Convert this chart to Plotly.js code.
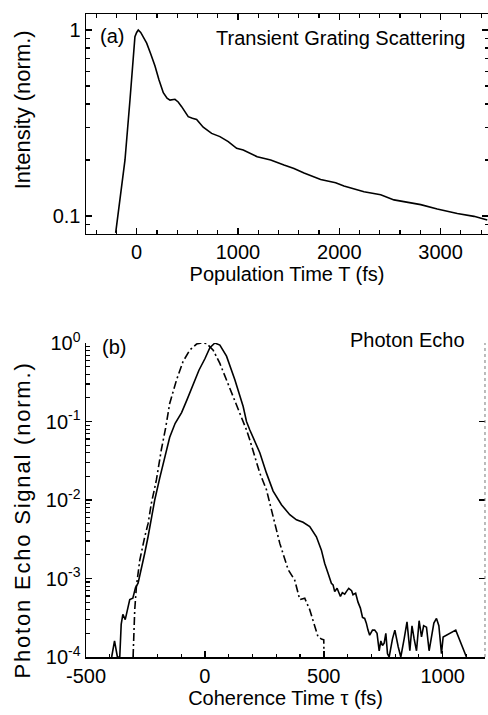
<!DOCTYPE html>
<html>
<head>
<meta charset="utf-8">
<script src="https://cdn.plot.ly/plotly-3.0.1.min.js"></script>
<style>
html,body{margin:0;padding:0;background:#fff;}
#chart{width:488px;height:715px;}
</style>
</head>
<body>
<div id="chart"></div>
<script>
// ---------- Panel (a): Transient grating scattering ----------
var tgTime = [-207,-160,-115,-66,-39,-17,0,16,40,70,99,140,181,220,263,300,329,378,410,444,509,550,592,657,700,740,822,904,987,1052,1190,1323,1454,1553,1652,1816,1964,2046,2244,2409,2540,2705,2804,2967,3165,3330,3461];
var tgIntensity = [0.081,0.13,0.20,0.42,0.69,0.92,0.97,1.0,0.97,0.91,0.85,0.74,0.64,0.54,0.46,0.43,0.42,0.424,0.41,0.387,0.342,0.335,0.33,0.30,0.29,0.278,0.267,0.251,0.231,0.226,0.208,0.20,0.188,0.18,0.17,0.157,0.151,0.145,0.135,0.130,0.122,0.117,0.115,0.109,0.103,0.0995,0.095];

// ---------- Panel (b): Photon echo ----------
var peTau = [-392,-380,-368,-358,-352,-345,-335,-324,-316,-303,-292,-281,-267,-253,-239,-225,-211,-190,-169,-148,-125,-98,-75,-50,-25,0,21,42,63,91,126,161,175,189,203,231,259,287,322,357,385,413,441,469,490,504,518,532,539,546,556,564,570,578,588,595,605,617,623,634,644,654,663,672,679,686,693,705,714,724,733,740,747,754,761,768,775,789,799,813,824,838,850,862,871,880,890,901,911,920,932,943,953,963,974,984,995,1002,1055,1100];
var peSignal = [1.0e-4,1.6e-4,1.0e-4,1.0e-4,2.6e-4,3.5e-4,3.0e-4,4.4e-4,5.4e-4,5.6e-4,7.6e-4,8.7e-4,1.3e-3,2.1e-3,3.4e-3,6.2e-3,1.0e-2,1.9e-2,3.5e-2,6.3e-2,9.5e-2,0.13,0.19,0.30,0.45,0.63,0.87,1.0,0.94,0.68,0.34,0.155,0.10,7.8e-2,6.2e-2,4.0e-2,2.2e-2,1.3e-2,8.7e-3,6.5e-3,5.6e-3,5.2e-3,4.6e-3,3.4e-3,2.3e-3,1.55e-3,1.17e-3,8.7e-4,8.3e-4,6.8e-4,7.5e-4,6.5e-4,5.9e-4,6.6e-4,6.3e-4,6.8e-4,7.5e-4,7.0e-4,6.2e-4,6.5e-4,5.0e-4,4.2e-4,3.2e-4,3.1e-4,2.7e-4,2.2e-4,1.9e-4,2.2e-4,2.2e-4,2.0e-4,1.2e-4,1.6e-4,1.4e-4,1.5e-4,2.0e-4,1.1e-4,1.0e-4,1.7e-4,2.2e-4,1.35e-4,1.0e-4,1.7e-4,2.8e-4,1.2e-4,2.5e-4,1.7e-4,1.2e-4,2.9e-4,1.8e-4,2.5e-4,2.4e-4,1.2e-4,1.8e-4,2.7e-4,3.1e-4,2.5e-4,1.1e-4,1.8e-4,2.2e-4,1.0e-4];

var refTau = [-302,-299,-295,-288,-274,-253,-239,-225,-204,-183,-165,-148,-119,-92,-64,-35,-14,7,35,63,91,119,147,175,189,231,259,287,315,350,378,399,420,441,462,476,490,500,501];
var refSignal = [1.0e-4,2.0e-4,4.0e-4,7.9e-4,1.7e-3,3.4e-3,5.0e-3,9.1e-3,1.8e-2,4.4e-2,8.3e-2,0.17,0.34,0.58,0.81,0.97,1.0,0.99,0.81,0.55,0.34,0.20,0.126,7.8e-2,5.8e-2,2.2e-2,1.35e-2,6.2e-3,2.8e-3,1.3e-3,9.5e-4,5.4e-4,5.6e-4,4.0e-4,2.5e-4,1.8e-4,1.7e-4,1.66e-4,1.0e-4];

// ---------- Tick labels ----------
var topYTickVals = [0.1, 1];
var topYTickText = ['0.1', '1'];
var botXTickVals = [-500, 0, 500, 1000];
var botXTickText = ['-500', '0', '500', '1000'];
var botYTickVals = [1e-4, 1e-3, 1e-2, 1e-1, 1];
var botYTickText = ['10<sup>-4</sup>', '10<sup>-3</sup>', '10<sup>-2</sup>', '10<sup>-1</sup>', '10<sup>0</sup>'];

function logMinor(fromExp, toExp) {
  var out = [];
  for (var e = fromExp; e <= toExp; e++) {
    for (var m = 2; m <= 9; m++) out.push(m * Math.pow(10, e));
  }
  return out;
}

var FONT = {family: 'Liberation Sans, Arial, sans-serif', size: 20, color: '#000'};
var YTFONT = {family: 'Liberation Sans, Arial, sans-serif', size: 22, color: '#000'};
var MINOR = {ticks: 'inside', ticklen: 3.5, tickwidth: 1.2, tickcolor: '#000'};
var axCommon = {
  showline: true, linecolor: '#000', linewidth: 1.5,
  ticks: 'inside', ticklen: 6, tickwidth: 1.5, tickcolor: '#000',
  showgrid: false, zeroline: false, tickfont: FONT
};

var traces = [
  {x: tgTime, y: tgIntensity, xaxis: 'x', yaxis: 'y', mode: 'lines',
   line: {color: '#000', width: 1.6}, hoverinfo: 'skip'},
  {x: peTau, y: peSignal, xaxis: 'x2', yaxis: 'y2', mode: 'lines',
   line: {color: '#000', width: 1.6}, hoverinfo: 'skip'},
  {x: refTau, y: refSignal, xaxis: 'x2', yaxis: 'y3', mode: 'lines',
   line: {color: '#000', width: 1.6, dash: '8px,3px,2px,3px'}, hoverinfo: 'skip'}
];

var layout = {
  width: 488, height: 715,
  margin: {l: 86, r: 0, t: 14, b: 58},
  paper_bgcolor: '#fff', plot_bgcolor: '#fff',
  showlegend: false,
  font: FONT,
  xaxis: Object.assign({}, axCommon, {
    domain: [0, 1], anchor: 'y', range: [-500, 3468],
    mirror: 'allticks', tick0: 0, dtick: 1000,
    minor: Object.assign({}, MINOR, {tick0: 0, dtick: 200}),
    title: {text: 'Population Time T (fs)', font: FONT, standoff: 4}
  }),
  yaxis: Object.assign({}, axCommon, {
    domain: [0.6579, 1], anchor: 'x', type: 'log', range: [-1.097, 0.086],
    mirror: 'allticks', tickmode: 'array', tickvals: topYTickVals, ticktext: topYTickText,
    minor: Object.assign({}, MINOR, {tickmode: 'array', tickvals: logMinor(-2, 0)})
  }),
  xaxis2: Object.assign({}, axCommon, {
    domain: [0, 0.9925], anchor: 'y2', range: [-500, 1178],
    tickmode: 'array', tickvals: botXTickVals, ticktext: botXTickText,
    minor: Object.assign({}, MINOR, {tickmode: 'linear', tick0: 0, dtick: 100}),
    title: {text: 'Coherence Time \u03c4 (fs)', font: FONT, standoff: 4}
  }),
  yaxis2: Object.assign({}, axCommon, {
    domain: [0, 0.4883], anchor: 'x2', type: 'log', range: [-4, 0],
    tickmode: 'array', tickvals: botYTickVals, ticktext: botYTickText,
    minor: Object.assign({}, MINOR, {tickmode: 'array', tickvals: logMinor(-4, -1)})
  }),
  yaxis3: {
    overlaying: 'y2', anchor: 'free', position: 0.9925, side: 'right', type: 'log', range: [-4, 0],
    showline: false, showgrid: false, zeroline: false,
    ticks: 'inside', ticklen: 6, tickwidth: 1.5, tickcolor: '#000',
    tickmode: 'array', tickvals: botYTickVals, showticklabels: false
  },
  shapes: [
    {type: 'line', xref: 'x2 domain', yref: 'y2 domain', x0: 1, x1: 1, y0: 0, y1: 1,
     line: {color: '#777', width: 1, dash: 'dot'}}
  ],
  annotations: [
    {text: 'Intensity (norm.)', xref: 'paper', yref: 'paper', x: -0.158, y: 0.851, textangle: -90,
     xanchor: 'center', yanchor: 'middle', showarrow: false, font: YTFONT},
    {text: '<span style="letter-spacing:1.8px">Photon Echo Signal (norm.)</span>', xref: 'paper', yref: 'paper', x: -0.158, y: 0.213, textangle: -90,
     xanchor: 'center', yanchor: 'middle', showarrow: false, font: YTFONT},
    {text: '(a)', xref: 'x domain', yref: 'y domain', x: 0.03, y: 0.9, xanchor: 'left', yanchor: 'middle', showarrow: false, font: FONT},
    {text: 'Transient Grating Scattering', xref: 'x domain', yref: 'y domain', x: 0.948, y: 0.89, xanchor: 'right', yanchor: 'middle', showarrow: false, font: FONT},
    {text: '(b)', xref: 'x2 domain', yref: 'y2 domain', x: 0.035, y: 0.987, xanchor: 'left', yanchor: 'middle', showarrow: false, font: FONT},
    {text: 'Photon Echo', xref: 'x2 domain', yref: 'y2 domain', x: 0.955, y: 1.01, xanchor: 'right', yanchor: 'middle', showarrow: false, font: FONT}
  ]
};

Plotly.newPlot('chart', traces, layout, {staticPlot: true, displayModeBar: false});
</script>
</body>
</html>
